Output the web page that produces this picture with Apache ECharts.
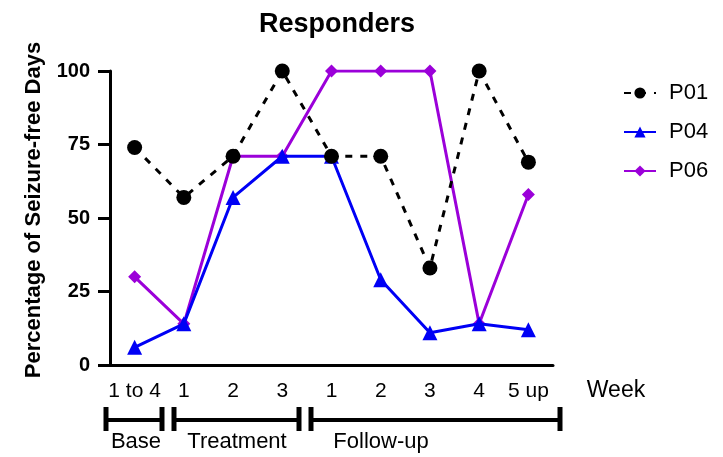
<!DOCTYPE html>
<html>
<head>
<meta charset="utf-8">
<script src="https://cdn.jsdelivr.net/npm/echarts@6/dist/echarts.min.js"></script>
<style>
  html, body { margin: 0; padding: 0; background: #fff; }
  #chart { width: 723px; height: 457px; }
</style>
</head>
<body>
<div id="chart"></div>
<script>
const weeks = ['1 to 4', '1', '2', '3', '1', '2', '3', '4', '5 up']
const p01 = [74, 57, 71, 100, 71, 71, 33, 100, 69]
const p04 = [6, 14, 57, 71, 71, 29, 11, 14, 12]
const p06 = [30, 14, 71, 71, 100, 100, 100, 14, 58]
const yTicks = [0, 25, 50, 75, 100]

const font = 'Liberation Sans, Arial, sans-serif'
const chart = echarts.init(document.getElementById('chart'))

// bracket line + end caps
const bracket = (x1, x2, y) => [
  { type: 'line', shape: { x1: x1, y1: y, x2: x2, y2: y }, style: { stroke: '#000', lineWidth: 4 } },
  { type: 'line', shape: { x1: x1, y1: y - 13, x2: x1, y2: y + 11 }, style: { stroke: '#000', lineWidth: 5 } },
  { type: 'line', shape: { x1: x2, y1: y - 13, x2: x2, y2: y + 11 }, style: { stroke: '#000', lineWidth: 5 } }
]

const label = (text, x, y, size) => ({
  type: 'text',
  x: x,
  y: y,
  style: { text: text, fill: '#000', font: size + 'px ' + font, align: 'center', verticalAlign: 'middle' }
})

chart.setOption({
  animation: false,
  title: {
    text: 'Responders',
    left: 332,
    top: 6,
    textAlign: 'center',
    textStyle: { fontFamily: font, fontSize: 27, fontWeight: 'bold', color: '#000' }
  },
  legend: {
    data: ['P01', 'P04', 'P06'],
    orient: 'vertical',
    left: 618,
    top: 77,
    itemGap: 17,
    itemWidth: 32,
    itemHeight: 14,
    textStyle: { fontFamily: font, fontSize: 22, color: '#000', padding: [0, 0, 0, 8] }
  },
  grid: { left: 110, right: 170, top: 71, bottom: 92 },
  xAxis: {
    type: 'category',
    data: weeks,
    boundaryGap: true,
    axisLine: { lineStyle: { color: '#000', width: 3 } },
    axisTick: { alignWithLabel: true, length: 12, lineStyle: { color: '#000', width: 3 } },
    axisLabel: { interval: 0, margin: 16, fontFamily: font, fontSize: 21, color: '#000' }
  },
  yAxis: {
    type: 'value',
    min: 0,
    max: 100,
    interval: 25,
    splitLine: { show: false },
    axisLine: { show: true, lineStyle: { color: '#000', width: 3 } },
    axisTick: { show: true, length: 12, lineStyle: { color: '#000', width: 3 } },
    axisLabel: {
      margin: 20,
      fontFamily: font,
      fontSize: 20,
      fontWeight: 'bold',
      color: '#000',
      formatter: v => (yTicks.includes(v) ? String(v) : '')
    }
  },
  series: [
    {
      name: 'P06',
      type: 'line',
      data: p06,
      z: 2,
      symbol: 'diamond',
      symbolSize: 13,
      itemStyle: { color: '#9b00d9' },
      lineStyle: { color: '#9b00d9', width: 3 }
    },
    {
      name: 'P04',
      type: 'line',
      data: p04,
      z: 3,
      symbol: 'triangle',
      symbolSize: 15,
      itemStyle: { color: '#0000f5' },
      lineStyle: { color: '#0000f5', width: 3 }
    },
    {
      name: 'P01',
      type: 'line',
      data: p01,
      z: 4,
      symbol: 'circle',
      symbolSize: 15,
      itemStyle: { color: '#000' },
      lineStyle: { color: '#000', width: 3, type: [7, 8] }
    }
  ],
  graphic: [
    {
      type: 'text',
      x: 34,
      y: 210,
      rotation: Math.PI / 2,
      style: {
        text: 'Percentage of Seizure-free Days',
        fill: '#000',
        font: 'bold 22px ' + font,
        align: 'center',
        verticalAlign: 'middle'
      }
    },
    label('Week', 616, 391, 23),
    ...bracket(106, 162, 420),
    ...bracket(174, 299, 420),
    ...bracket(311, 560, 420),
    label('Base', 136, 442, 22),
    label('Treatment', 237, 442, 22),
    label('Follow-up', 381, 442, 22)
  ]
})
</script>
</body>
</html>
